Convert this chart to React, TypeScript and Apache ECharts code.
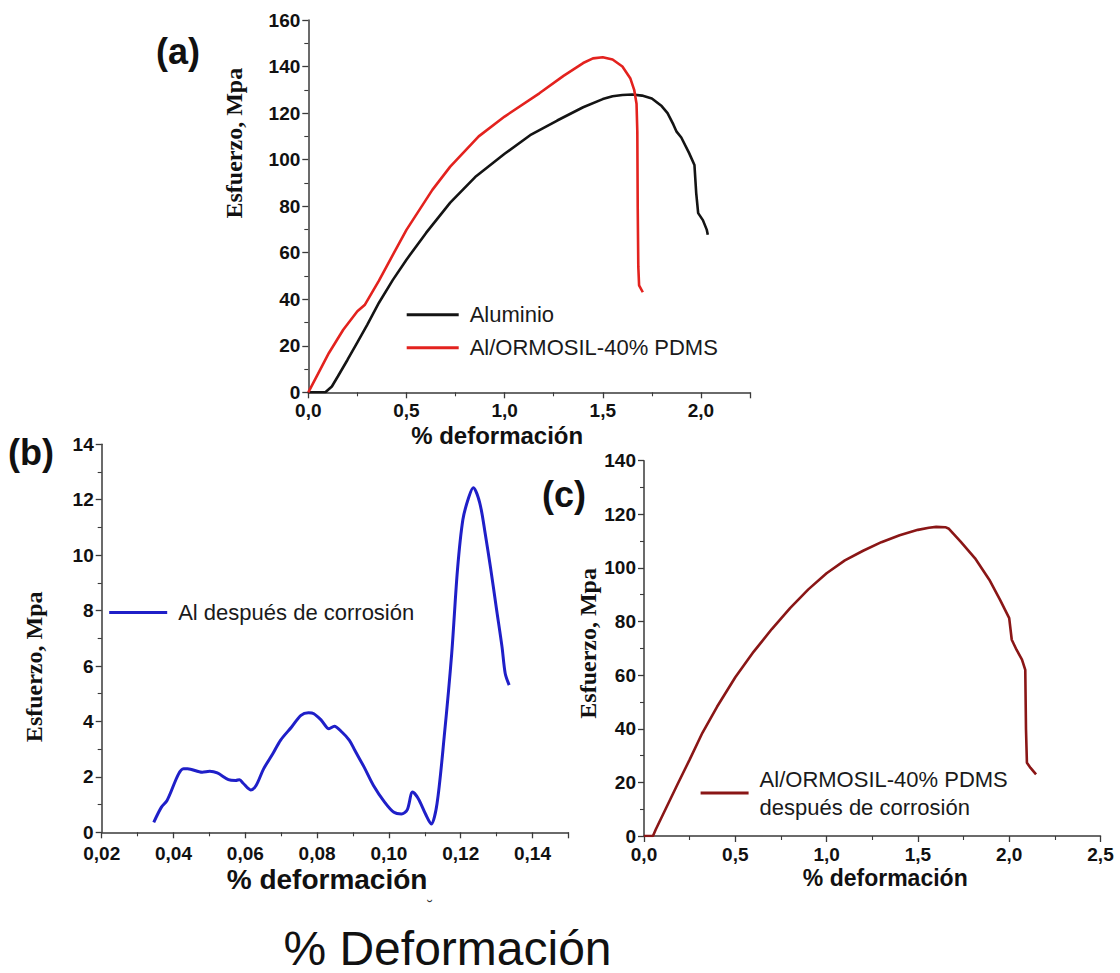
import React, { useEffect, useRef } from "react";
import * as echarts from "echarts";

// ---------- Data ----------
// (a) Aluminio
const alumX = [0.0, 0.087, 0.12, 0.151, 0.2, 0.25, 0.3, 0.36, 0.43, 0.5, 0.6, 0.723, 0.85, 1.0, 1.13, 1.268, 1.4, 1.5, 1.55, 1.6, 1.65, 1.7, 1.75, 1.8, 1.83, 1.86, 1.876, 1.9, 1.94, 1.967, 1.976, 1.986, 2.01, 2.03, 2.035];
const alumY = [0, 0, 2.5, 6.9, 14, 21.5, 29, 38.5, 48.2, 57, 68.5, 81.5, 92.5, 102.5, 110.5, 116.8, 122.5, 126, 127.2, 127.8, 128, 127.5, 126.3, 123, 120, 115, 112, 109.5, 102.8, 97.7, 85.6, 77, 74, 69.8, 67.7];
// (a) Al/ORMOSIL-40% PDMS
const ormX = [0.0, 0.05, 0.105, 0.178, 0.25, 0.287, 0.36, 0.43, 0.5, 0.632, 0.723, 0.868, 1.0, 1.177, 1.3, 1.4, 1.45, 1.5, 1.55, 1.6, 1.64, 1.66, 1.672, 1.676, 1.678, 1.681, 1.685, 1.704];
const ormY = [0, 8, 16.9, 26.9, 34.8, 37.5, 48, 59, 69.8, 87, 97, 110, 118.5, 128.5, 136, 141.5, 143.5, 144, 143, 140, 135, 130, 124, 112, 80, 54, 46, 43];
// (b) Al después de corrosión
const corrX = [0.0345, 0.0366, 0.0382, 0.0428, 0.0439, 0.048, 0.0501, 0.0522, 0.0553, 0.0573, 0.0584, 0.0594, 0.0615, 0.063, 0.0651, 0.0677, 0.0698, 0.0729, 0.0755, 0.0776, 0.0791, 0.0812, 0.0833, 0.0848, 0.0869, 0.089, 0.0905, 0.0931, 0.0957, 0.0988, 0.1014, 0.1035, 0.1051, 0.1066, 0.1082, 0.1102, 0.1118, 0.1134, 0.1154, 0.1175, 0.1191, 0.1206, 0.1222, 0.1235, 0.1253, 0.1268, 0.1284, 0.13, 0.1315, 0.1324, 0.1335];
const corrY = [0.36, 0.9, 1.15, 2.29, 2.29, 2.17, 2.2, 2.14, 1.9, 1.87, 1.9, 1.77, 1.53, 1.69, 2.29, 2.84, 3.32, 3.8, 4.22, 4.31, 4.28, 4.04, 3.74, 3.83, 3.62, 3.32, 2.96, 2.35, 1.69, 1.09, 0.72, 0.66, 0.81, 1.45, 1.21, 0.66, 0.3, 1.03, 3.44, 6.46, 9.47, 11.28, 12.07, 12.43, 11.89, 10.8, 9.47, 8.03, 6.7, 5.73, 5.31];
// (c) Al/ORMOSIL-40% PDMS después de corrosión
const ormCorrX = [0.0, 0.049, 0.065, 0.183, 0.25, 0.32, 0.4, 0.5, 0.6, 0.7, 0.8, 0.9, 1.0, 1.1, 1.2, 1.3, 1.4, 1.5, 1.56, 1.6, 1.65, 1.67, 1.734, 1.813, 1.891, 1.95, 2.0, 2.014, 2.04, 2.07, 2.088, 2.092, 2.097, 2.117, 2.147];
const ormCorrY = [0, 0, 2.5, 19.2, 28.5, 38.5, 48.2, 59.2, 68.7, 77.2, 85, 92, 98, 102.8, 106.4, 109.6, 112.2, 114.2, 115, 115.3, 115.2, 114.6, 109.8, 103.6, 95.6, 88.1, 81.3, 73.2, 69.5, 65.8, 62, 39.7, 27.3, 25.4, 23];

const seriesNames = [
  "Aluminio",
  "Al/ORMOSIL-40% PDMS",
  "Al después de corrosión",
  "Al/ORMOSIL-40% PDMS\ndespués de corrosión",
];
const panelLabels = ["(a)", "(b)", "(c)"];
const xTitle = "% deformación";
const yTitle = "Esfuerzo, Mpa";
const bottomTitle = "% Deformación";

const zip = (xs: number[], ys: number[]) => xs.map((x, i) => [x, ys[i]]);

const SANS = 'Arial, "Liberation Sans", Helvetica, sans-serif';
const SERIF = '"Times New Roman", "Liberation Serif", serif';
const AXIS_COLOR = "#3a3a3a";

function fmt(step: number, digits: number) {
  return (v: number) => {
    const k = v / step;
    if (Math.abs(k - Math.round(k)) > 1e-6) return "";
    return v.toFixed(digits).replace(".", ",");
  };
}

function xAxisCfg(gridIndex: number, min: number, max: number, interval: number, digits: number, nameGap: number, fontSize: number, padding: number[], margin: number) {
  return {
    type: "value",
    gridIndex,
    min,
    max,
    interval,
    name: xTitle,
    nameLocation: "middle",
    nameGap,
    nameTextStyle: { fontFamily: SANS, fontWeight: "bold", fontSize, color: "#111", padding },
    axisLine: { show: true, onZero: false, lineStyle: { color: AXIS_COLOR, width: 1.5 } },
    axisTick: { show: true, inside: false, length: 6, lineStyle: { color: AXIS_COLOR, width: 1.3 } },
    minorTick: { show: true, splitNumber: 2, length: 4, lineStyle: { color: AXIS_COLOR, width: 1.1 } },
    axisLabel: { formatter: fmt(interval, digits), fontFamily: SANS, fontWeight: "bold", fontSize: 19, color: "#111", margin },
    splitLine: { show: false },
  };
}

function yAxisCfg(gridIndex: number, min: number, max: number, interval: number, nameGap: number, padding: number[]) {
  return {
    type: "value",
    gridIndex,
    min,
    max,
    interval,
    name: yTitle,
    nameLocation: "middle",
    nameRotate: 90,
    nameGap,
    nameTextStyle: { fontFamily: SERIF, fontWeight: "bold", fontSize: 24, color: "#111", padding },
    axisLine: { show: true, onZero: false, lineStyle: { color: AXIS_COLOR, width: 1.5 } },
    axisTick: { show: true, inside: false, length: 6, lineStyle: { color: AXIS_COLOR, width: 1.3 } },
    minorTick: { show: true, splitNumber: 2, length: 4, lineStyle: { color: AXIS_COLOR, width: 1.1 } },
    axisLabel: { fontFamily: SANS, fontWeight: "bold", fontSize: 19, color: "#111", margin: 8 },
    splitLine: { show: false },
  };
}

function legendCfg(names: string[], left: number, top: number, itemWidth: number, lineHeight: number) {
  return {
    data: names,
    orient: "vertical",
    left,
    top,
    padding: 0,
    itemGap: 7,
    itemWidth,
    itemHeight: 3,
    icon: "rect",
    selectedMode: false,
    textStyle: { fontFamily: SANS, fontSize: 22, lineHeight, color: "#1a1a1a", padding: [0, 0, 0, 6] },
  };
}

export default function App() {
  const ref = useRef<HTMLDivElement>(null);

  useEffect(() => {
    if (!ref.current) return;
    const chart = echarts.init(ref.current, null, { renderer: "svg" });
    const option: any = {
      animation: false,
      backgroundColor: "#ffffff",
      grid: [
        { left: 308.3, top: 20, width: 441.7, height: 372.3 },
        { left: 101.7, top: 444.3, width: 466.7, height: 388 },
        { left: 644, top: 460.7, width: 456.5, height: 375.3 },
      ],
      xAxis: [
        xAxisCfg(0, 0, 2.25, 0.5, 1, 31, 24, [0, 64, 0, 0], 9),
        xAxisCfg(1, 0.02, 0.15, 0.02, 2, 33, 28, [0, 16, 0, 0], 12),
        xAxisCfg(2, 0, 2.5, 0.5, 1, 30, 23, [0, 0, 0, 26], 9),
      ],
      yAxis: [
        yAxisCfg(0, 0, 160, 20, 62, [0, 0, 0, 126]),
        yAxisCfg(1, 0, 14, 2, 56, [0, 57, 0, 0]),
        yAxisCfg(2, 0, 140, 20, 43, [0, 0, 0, 10]),
      ],
      legend: [
        legendCfg([seriesNames[0], seriesNames[1]], 406.7, 301.8, 52, 26),
        legendCfg([seriesNames[2]], 109.2, 599.5, 58, 26),
        legendCfg([seriesNames[3]], 700.6, 765, 48, 28),
      ],
      series: [
        {
          name: seriesNames[0], type: "line", xAxisIndex: 0, yAxisIndex: 0,
          data: zip(alumX, alumY), symbol: "none",
          lineStyle: { color: "#141414", width: 2.6 }, itemStyle: { color: "#141414" },
        },
        {
          name: seriesNames[1], type: "line", xAxisIndex: 0, yAxisIndex: 0,
          data: zip(ormX, ormY), symbol: "none",
          lineStyle: { color: "#e3221e", width: 2.6 }, itemStyle: { color: "#e3221e" },
        },
        {
          name: seriesNames[2], type: "line", xAxisIndex: 1, yAxisIndex: 1,
          data: zip(corrX, corrY), symbol: "none", smooth: 0.3,
          lineStyle: { color: "#1f1fc8", width: 3 }, itemStyle: { color: "#1f1fc8" },
        },
        {
          name: seriesNames[3], type: "line", xAxisIndex: 2, yAxisIndex: 2,
          data: zip(ormCorrX, ormCorrY), symbol: "none",
          lineStyle: { color: "#8a1616", width: 2.6 }, itemStyle: { color: "#8a1616" },
        },
      ],
      graphic: [
        { type: "text", x: 178, y: 51, style: { text: panelLabels[0], fontFamily: SANS, fontWeight: "bold", fontSize: 36, fill: "#111", align: "center", verticalAlign: "middle" } },
        { type: "text", x: 31, y: 452, style: { text: panelLabels[1], fontFamily: SANS, fontWeight: "bold", fontSize: 36, fill: "#111", align: "center", verticalAlign: "middle" } },
        { type: "text", x: 564, y: 494, style: { text: panelLabels[2], fontFamily: SANS, fontWeight: "bold", fontSize: 36, fill: "#111", align: "center", verticalAlign: "middle" } },
        { type: "text", x: 447.5, y: 948, style: { text: bottomTitle, fontFamily: SANS, fontSize: 48, fill: "#111", align: "center", verticalAlign: "middle" } },
        { type: "text", x: 430, y: 906, style: { text: "˘", fontFamily: SANS, fontSize: 16, fill: "#333", align: "center", verticalAlign: "middle" } },
      ],
    };
    chart.setOption(option);
    return () => chart.dispose();
  }, []);

  return (
    <div
      ref={ref}
      style={{ position: "absolute", left: 0, top: 0, width: 1120, height: 973, background: "#fff" }}
    />
  );
}
